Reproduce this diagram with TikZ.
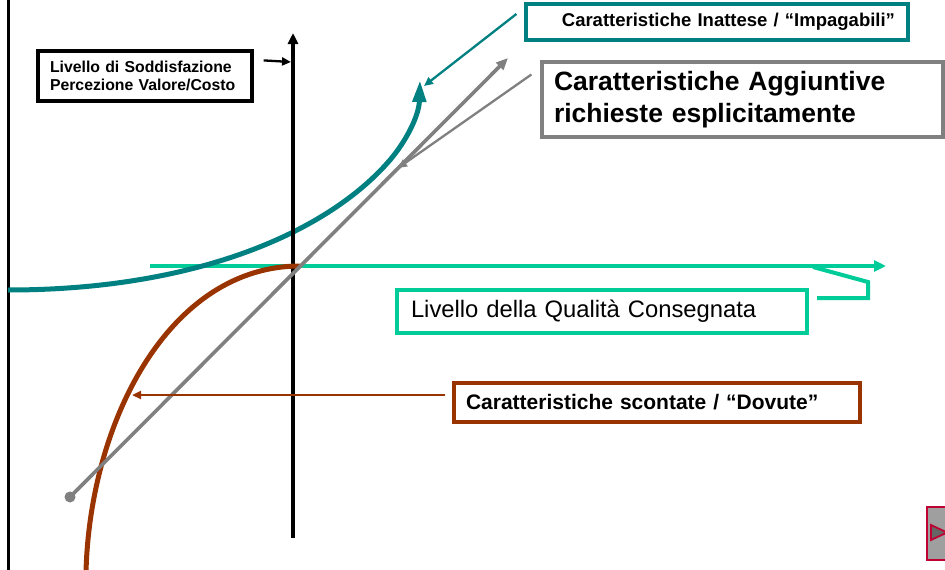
\documentclass[tikz,border=0pt]{standalone}
\usepackage{fontspec}
\setmainfont{Liberation Sans}
\usetikzlibrary{arrows.meta,calc}
\definecolor{kteal}{HTML}{008080}
\definecolor{kbrown}{HTML}{993300}
\definecolor{kgreen}{HTML}{00CC99}
\definecolor{kgray}{HTML}{808080}
\definecolor{kred}{HTML}{C00033}
\tikzset{
  labelbox/.style = {draw, line width=3.2pt, align=left, inner ysep=0pt, fill=white},
  pointer/.style = {line width=2.3pt, -{Triangle[length=9pt,width=8pt]}},
  curveline/.style = {line width=5pt}
}

\begin{document}
\begin{tikzpicture}[x=1pt,y=-1pt]
  \useasboundingbox (0,0) rectangle (945,570);
  % frame line and axes
  \draw[line width=3pt] (8,0) -- (8,570);
  \coordinate (ybot) at (293,538);
  \coordinate (ytop) at (293,33);
  \coordinate (xleft) at (150,266);
  \coordinate (xright) at (886,266);
  % delivered quality level
  \draw[kgreen, line width=4.2pt, -{Triangle[length=12pt,width=11pt]}] (xleft) -- (xright);
  % unexpected features
  \draw[kteal, curveline, -{Triangle[length=22pt,width=13pt]}]
    (8,290) .. controls (200,290) and (330,230) .. (390,160)
            .. controls (407,140) and (419,115) .. (420,80);
  \draw[line width=3.8pt, -{Triangle[length=11pt,width=10pt]}] (ybot) -- (ytop);
  % expected features
  \draw[kbrown, curveline] (86,572) .. controls (90,420) and (170,266) .. (300,266);
  % explicitly requested features
  \coordinate (gstart) at (70,497);
  \coordinate (gend) at (508,58);
  \fill[kgray] (gstart) circle (5.5pt);
  \draw[kgray, line width=3.6pt, -{Triangle[length=12pt,width=10pt]}] (gstart) -- (gend);

  % labels
  \node[labelbox, minimum width=214pt, minimum height=50pt, text width=190pt, inner xsep=12pt,
        font=\fontsize{15.8}{18}\selectfont\bfseries] (soddisf) at (145,76)
    {Livello di Soddisfazione\\Percezione Valore/Costo};
  \node[labelbox, draw=kteal, minimum width=382pt, minimum height=36pt, text width=356pt, inner xsep=13pt,
        align=right, font=\fontsize{18.5}{21}\selectfont\bfseries] (inattese) at (717,22)
    {Caratteristiche Inattese / “Impagabili”};
  \node[labelbox, draw=kgray, minimum width=401pt, minimum height=75pt, text width=377pt, inner xsep=12pt,
        font=\fontsize{26.5}{32}\selectfont\bfseries] (aggiunt) at (742.5,99.5)
    {Caratteristiche Aggiuntive\\richieste esplicitamente};
  \node[labelbox, draw=kgreen, line width=4pt, minimum width=410pt, minimum height=43pt, text width=382pt,
        inner xsep=14pt, font=\fontsize{23.8}{28}\selectfont] (consegnata) at (602,311.5)
    {Livello della Qualità Consegnata};
  \node[labelbox, draw=kbrown, minimum width=406pt, minimum height=39pt, text width=382pt, inner xsep=12pt,
        font=\fontsize{21}{25}\selectfont\bfseries] (dovute) at (657,402.5)
    {Caratteristiche scontate / “Dovute”};

  % connectors
  \draw[pointer] ($(soddisf.north east)+(10,11)$) -- ($(ytop)+(-2,29)$);
  \draw[kteal, pointer] ([xshift=-8pt,yshift=8pt]inattese.west) -- (424,86);
  \draw[kgray, pointer] ([xshift=-9pt,yshift=25pt]aggiunt.west) -- (398,168);
  \draw[kbrown, pointer] ([xshift=-7pt,yshift=7.5pt]dovute.west) -- (132,395);
  \draw[kgreen, line width=4pt] ([xshift=8pt,yshift=13.5pt]consegnata.east) -- (868,298) -- (868,282) -- (813,267);

  % play button
  \draw[kred, fill=gray!75, line width=2.5pt] (927,507) rectangle (952,560);
  \draw[kred, fill=black!60, line width=1.8pt] (931,525) -- (931,540) -- (947,532.5) -- cycle;
\end{tikzpicture}
\end{document}
